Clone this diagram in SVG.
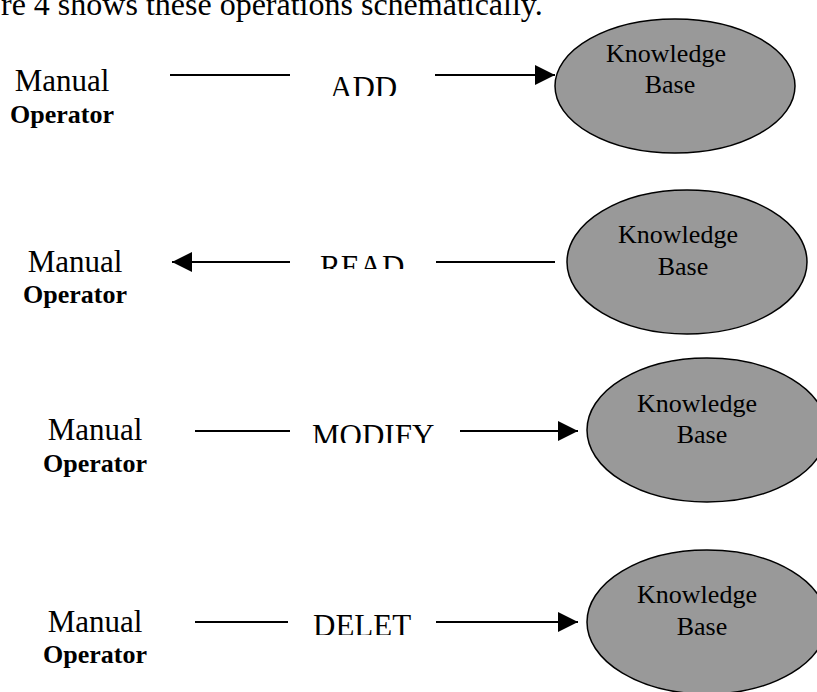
<svg xmlns="http://www.w3.org/2000/svg" width="817" height="692" viewBox="0 0 817 692">
  <style>
    .body { font-family: "Liberation Serif", "Times New Roman", serif; font-size: 31px; fill: #000; }
    .lead { font-family: "Liberation Serif", "Times New Roman", serif; font-size: 32px; fill: #000; }
    .op { font-family: "Liberation Serif", "Times New Roman", serif; font-size: 26px; font-weight: bold; fill: #000; text-anchor: middle; }
    .kb { font-family: "Liberation Serif", "Times New Roman", serif; font-size: 26px; fill: #000; text-anchor: middle; }
    .kbshape { fill: #999999; stroke: #000; stroke-width: 1.5; }
    .edge { stroke: #000; stroke-width: 2; fill: none; }
  </style>
  <defs>
    <marker id="head" markerUnits="userSpaceOnUse" markerWidth="20" markerHeight="20" refX="20" refY="10" orient="auto">
      <path d="M0,0 L20,10 L0,20 z" fill="#000"/>
    </marker>
    <clipPath id="clipAdd"><rect x="300" y="60" width="130" height="36"/></clipPath>
    <clipPath id="clipRead"><rect x="300" y="240" width="130" height="29"/></clipPath>
    <clipPath id="clipModify"><rect x="300" y="410" width="150" height="33"/></clipPath>
    <clipPath id="clipDelet"><rect x="300" y="600" width="130" height="35"/></clipPath>
  </defs>

  <rect width="817" height="692" fill="#fff"/>

  <!-- running text line above the figure -->
  <text class="lead" x="1" y="15">re 4 shows these operations schematically.</text>

  <!-- operators -->
  <g id="operator-add">
    <text class="body" x="62" y="91" text-anchor="middle">Manual</text>
    <text class="op" x="62" y="123">Operator</text>
  </g>
  <g id="operator-read">
    <text class="body" x="75" y="272" text-anchor="middle">Manual</text>
    <text class="op" x="75" y="303">Operator</text>
  </g>
  <g id="operator-modify">
    <text class="body" x="95" y="440" text-anchor="middle">Manual</text>
    <text class="op" x="95" y="472">Operator</text>
  </g>
  <g id="operator-delete">
    <text class="body" x="95" y="632" text-anchor="middle">Manual</text>
    <text class="op" x="95" y="663">Operator</text>
  </g>

  <!-- knowledge bases -->
  <g id="kb-add">
    <ellipse class="kbshape" cx="675" cy="86" rx="120" ry="67"/>
    <text class="kb" x="666" y="62">Knowledge</text>
    <text class="kb" x="670" y="93">Base</text>
  </g>
  <g id="kb-read">
    <ellipse class="kbshape" cx="687" cy="262" rx="120" ry="72"/>
    <text class="kb" x="678" y="243">Knowledge</text>
    <text class="kb" x="683" y="275">Base</text>
  </g>
  <g id="kb-modify">
    <ellipse class="kbshape" cx="707" cy="430" rx="120" ry="72"/>
    <text class="kb" x="697" y="412">Knowledge</text>
    <text class="kb" x="702" y="443">Base</text>
  </g>
  <g id="kb-delete">
    <ellipse class="kbshape" cx="707" cy="622" rx="120" ry="72"/>
    <text class="kb" x="697" y="603">Knowledge</text>
    <text class="kb" x="702" y="635">Base</text>
  </g>

  <!-- connectors with their operation labels -->
  <g id="connectors">
    <line class="edge" x1="170" y1="75" x2="290" y2="75"/>
    <text class="body" x="330" y="98" clip-path="url(#clipAdd)">ADD</text>
    <line class="edge" x1="435" y1="75" x2="555" y2="75" marker-end="url(#head)"/>

    <line class="edge" x1="290" y1="262" x2="172" y2="262" marker-end="url(#head)"/>
    <text class="body" x="320" y="277" clip-path="url(#clipRead)">READ</text>
    <line class="edge" x1="436" y1="262" x2="555" y2="262"/>

    <line class="edge" x1="195" y1="431" x2="290" y2="431"/>
    <text class="body" x="312" y="446" clip-path="url(#clipModify)">MODIFY</text>
    <line class="edge" x1="460" y1="431" x2="578" y2="431" marker-end="url(#head)"/>

    <line class="edge" x1="195" y1="622" x2="288" y2="622"/>
    <text class="body" x="313" y="636" clip-path="url(#clipDelet)">DELET</text>
    <line class="edge" x1="436" y1="622" x2="578" y2="622" marker-end="url(#head)"/>
  </g>
</svg>
